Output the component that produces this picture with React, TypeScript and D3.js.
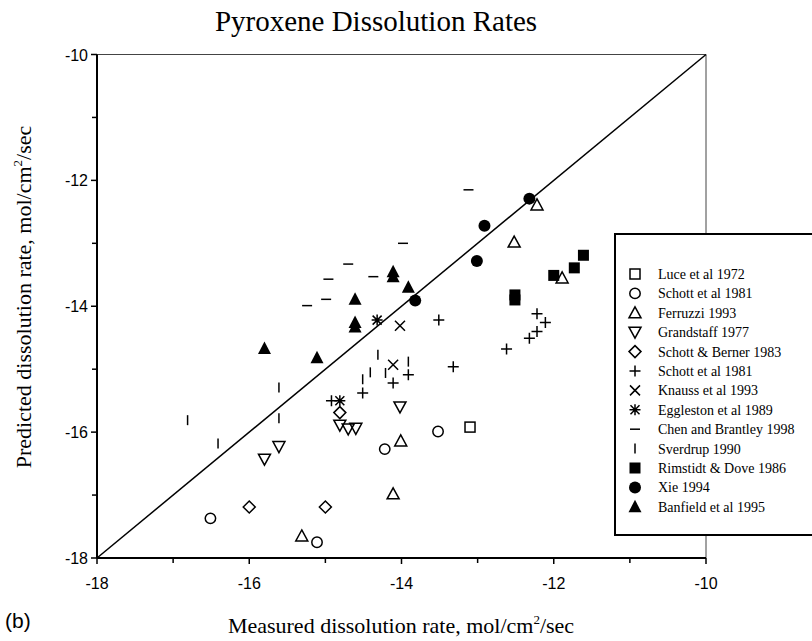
import React from "react";
import * as d3 from "d3";

type P = [number, number];

const luce: P[] = [[-13.1, -15.92]];
const schott81: P[] = [[-14.22, -16.27], [-16.51, -17.37], [-15.11, -17.75], [-13.52, -15.99]];
const ferruzzi: P[] = [[-12.22, -12.39], [-12.52, -12.98], [-11.89, -13.55], [-14.01, -16.14], [-14.11, -16.98], [-15.31, -17.65]];
const grandstaff: P[] = [[-14.02, -15.6], [-14.81, -15.89], [-14.7, -15.95], [-14.6, -15.94], [-15.61, -16.23], [-15.8, -16.43]];
const schottBerner: P[] = [[-14.81, -15.69], [-16.0, -17.19], [-15.0, -17.19]];
const schott81b: P[] = [[-14.92, -15.5], [-14.51, -15.38], [-14.11, -15.22], [-13.91, -15.09], [-13.32, -14.96], [-13.51, -14.22], [-12.62, -14.68], [-12.32, -14.51], [-12.22, -14.4], [-12.11, -14.26], [-12.22, -14.12]];
const knauss: P[] = [[-14.02, -14.31], [-14.11, -14.93]];
const eggleston: P[] = [[-14.32, -14.22], [-14.81, -15.5]];
const chen: P[] = [[-13.12, -12.15], [-13.98, -13.0], [-14.7, -13.33], [-14.37, -13.53], [-14.96, -13.57], [-14.99, -13.89], [-15.24, -13.99]];
const sverdrup: P[] = [[-14.31, -14.77], [-13.91, -14.88], [-14.41, -15.05], [-14.21, -15.06], [-14.51, -15.16], [-15.61, -15.29], [-15.61, -15.78], [-16.81, -15.81], [-16.41, -16.18]];
const rimstidt: P[] = [[-11.61, -13.19], [-11.73, -13.39], [-12.0, -13.51], [-12.51, -13.82], [-12.51, -13.9]];
const xie: P[] = [[-12.32, -12.29], [-12.91, -12.72], [-13.01, -13.28], [-13.82, -13.91]];
const banfield: P[] = [[-14.11, -13.45], [-14.11, -13.53], [-13.91, -13.7], [-14.61, -13.89], [-14.61, -14.26], [-14.61, -14.33], [-15.8, -14.67], [-15.11, -14.82]];

const seriesNames = [
  "Luce et al 1972",
  "Schott et al 1981",
  "Ferruzzi 1993",
  "Grandstaff 1977",
  "Schott & Berner 1983",
  "Schott et al 1981",
  "Knauss et al 1993",
  "Eggleston et al 1989",
  "Chen and Brantley 1998",
  "Sverdrup 1990",
  "Rimstidt & Dove 1986",
  "Xie 1994",
  "Banfield et al 1995",
];
const seriesSymbols = ["sq", "circ", "tri", "dtri", "dia", "plus", "x", "ast", "dash", "bar", "fsq", "fcirc", "ftri"];
const seriesData = [luce, schott81, ferruzzi, grandstaff, schottBerner, schott81b, knauss, eggleston, chen, sverdrup, rimstidt, xie, banfield];

const xTicks = [-18, -17, -16, -15, -14, -13, -12, -11, -10];
const yTicks = [-18, -17, -16, -15, -14, -13, -12, -11, -10];
const labeled = [-18, -16, -14, -12, -10];

const X0 = 97, X1 = 706, Y0 = 558, Y1 = 54.5;

function Sym({ kind, x, y }: { kind: string; x: number; y: number }) {
  const s = 1.5;
  switch (kind) {
    case "sq":
      return <rect x={x - 5} y={y - 5} width={10} height={10} fill="none" stroke="#000" strokeWidth={s} />;
    case "fsq":
      return <rect x={x - 5.5} y={y - 5.5} width={11} height={11} fill="#000" />;
    case "circ":
      return <circle cx={x} cy={y} r={5.2} fill="none" stroke="#000" strokeWidth={s} />;
    case "fcirc":
      return <circle cx={x} cy={y} r={6} fill="#000" />;
    case "tri":
      return <path d={`M${x},${y - 6} L${x + 6},${y + 5} L${x - 6},${y + 5} Z`} fill="none" stroke="#000" strokeWidth={s} />;
    case "ftri":
      return <path d={`M${x},${y - 7} L${x + 6.5},${y + 5.5} L${x - 6.5},${y + 5.5} Z`} fill="#000" />;
    case "dtri":
      return <path d={`M${x},${y + 6} L${x + 6},${y - 5} L${x - 6},${y - 5} Z`} fill="none" stroke="#000" strokeWidth={s} />;
    case "dia":
      return <path d={`M${x},${y - 6} L${x + 6},${y} L${x},${y + 6} L${x - 6},${y} Z`} fill="none" stroke="#000" strokeWidth={s} />;
    case "plus":
      return <path d={`M${x - 5.5},${y} L${x + 5.5},${y} M${x},${y - 5.5} L${x},${y + 5.5}`} stroke="#000" strokeWidth={s} />;
    case "x":
      return <path d={`M${x - 5},${y - 5} L${x + 5},${y + 5} M${x - 5},${y + 5} L${x + 5},${y - 5}`} stroke="#000" strokeWidth={s} />;
    case "ast":
      return <path d={`M${x - 5.5},${y} L${x + 5.5},${y} M${x},${y - 5.5} L${x},${y + 5.5} M${x - 4.5},${y - 4.5} L${x + 4.5},${y + 4.5} M${x - 4.5},${y + 4.5} L${x + 4.5},${y - 4.5}`} stroke="#000" strokeWidth={s} />;
    case "dash":
      return <path d={`M${x - 5},${y} L${x + 5},${y}`} stroke="#000" strokeWidth={s} />;
    case "bar":
      return <path d={`M${x},${y - 5} L${x},${y + 5}`} stroke="#000" strokeWidth={s} />;
  }
  return null;
}

export default function App() {
  const xs = d3.scaleLinear().domain([-18, -10]).range([X0, X1]);
  const ys = d3.scaleLinear().domain([-18, -10]).range([Y0, Y1]);
  const tickFont = "'Liberation Sans', Arial, sans-serif";
  const serif = "'Liberation Serif', 'Times New Roman', serif";
  const legX = 615, legY = 234;
  return (
    <svg width={812} height={641} style={{ position: "absolute", left: 0, top: 0, background: "#fff" }}>
      <rect x={0} y={0} width={812} height={641} fill="#fff" />
      <text x={376} y={31} textAnchor="middle" fontFamily={serif} fontSize={29}>Pyroxene Dissolution Rates</text>
      {/* frame */}
      <line x1={xs(-18)} x2={xs(-10)} y1={ys(-10)} y2={ys(-10)} stroke="#444" strokeWidth={1} />
      <line x1={xs(-10)} x2={xs(-10)} y1={ys(-10)} y2={ys(-18)} stroke="#444" strokeWidth={1} />
      {/* diagonal */}
      <line x1={xs(-18)} y1={ys(-18)} x2={xs(-10)} y2={ys(-10)} stroke="#000" strokeWidth={1.5} />
      {/* axes */}
      <line x1={xs(-18)} x2={xs(-10)} y1={ys(-18)} y2={ys(-18)} stroke="#000" strokeWidth={2} />
      <line x1={xs(-18)} x2={xs(-18)} y1={ys(-10)} y2={ys(-18)} stroke="#000" strokeWidth={2} />
      {xTicks.map((t) => (
        <line key={"xt" + t} x1={xs(t)} x2={xs(t)} y1={ys(-18)} y2={ys(-18) + (labeled.includes(t) ? 6 : 5)} stroke="#000" strokeWidth={1.5} />
      ))}
      {yTicks.map((t) => (
        <line key={"yt" + t} x1={xs(-18) - (labeled.includes(t) ? 6 : 5)} x2={xs(-18)} y1={ys(t)} y2={ys(t)} stroke="#000" strokeWidth={1.5} />
      ))}
      {labeled.map((t) => (
        <text key={"xl" + t} x={xs(t)} y={ys(-18) + 31} textAnchor="middle" fontFamily={tickFont} fontSize={16}>{t}</text>
      ))}
      {labeled.map((t) => (
        <text key={"yl" + t} x={xs(-18) - 9} y={ys(t) + 6} textAnchor="end" fontFamily={tickFont} fontSize={16}>{t}</text>
      ))}
      {/* data */}
      {seriesData.map((arr, i) =>
        arr.map((p, j) => <Sym key={i + "-" + j} kind={seriesSymbols[i]} x={xs(p[0])} y={ys(p[1])} />)
      )}
      {/* legend */}
      <rect x={legX} y={legY} width={230} height={301} fill="#fff" stroke="#000" strokeWidth={2} />
      {seriesNames.map((n, i) => {
        const yy = 274 + i * 19.4;
        return (
          <g key={"lg" + i}>
            <Sym kind={seriesSymbols[i]} x={635} y={yy} />
            <text x={658} y={yy + 5} fontFamily={serif} fontSize={14}>{n}</text>
          </g>
        );
      })}
      {/* axis titles */}
      <text x={401} y={633} textAnchor="middle" fontFamily={serif} fontSize={22}>
        Measured dissolution rate, mol/cm<tspan dy={-9} fontSize={13}>2</tspan><tspan dy={9}>/sec</tspan>
      </text>
      <text transform="translate(31,297) rotate(-90)" textAnchor="middle" fontFamily={serif} fontSize={22}>
        Predicted dissolution rate, mol/cm<tspan dy={-9} fontSize={13}>2</tspan><tspan dy={9}>/sec</tspan>
      </text>
      <text x={5} y={628} fontFamily={tickFont} fontSize={21}>(b)</text>
    </svg>
  );
}
